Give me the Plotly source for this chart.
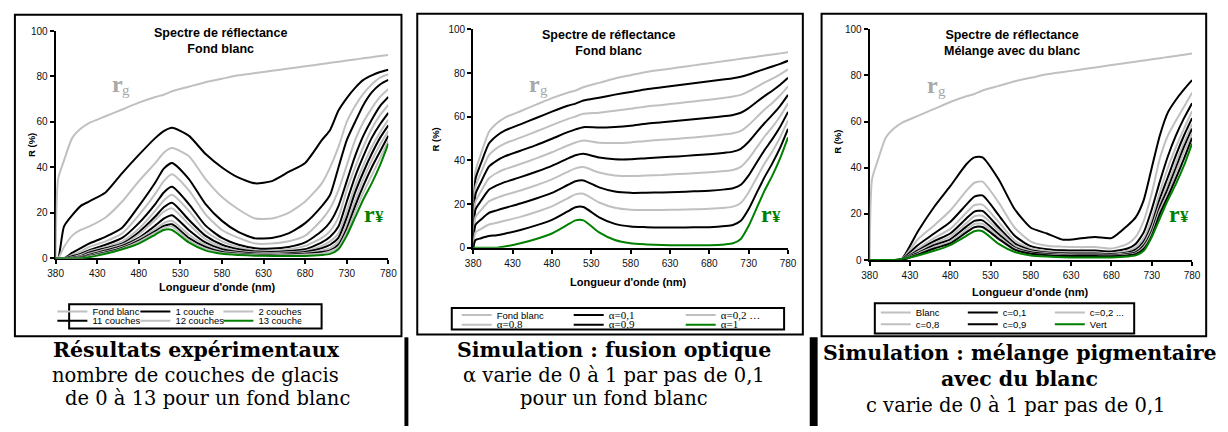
import plotly.graph_objects as go

W, H = 1228, 432

# ---------------- data ----------------
WL = [380, 383, 390, 400, 410, 420, 440, 460, 480, 500, 510, 520, 540, 560, 580,
      600, 620, 640, 660, 680, 700, 710, 720, 730, 740, 750, 760, 770, 780]
XTICKS = [380, 430, 480, 530, 580, 630, 680, 730, 780]
YTICKS = [0, 20, 40, 60, 80, 100]

# white background (r_g) and pure green glaze (r_Y)
RG = [0, 35, 43, 53, 57, 59.5, 62.5, 65.5, 68.5, 71, 72, 73.5, 75.5, 77.5, 79,
      80.5, 81.5, 82.5, 83.5, 84.5, 85.5, 86, 86.5, 87, 87.5, 88, 88.5, 89, 89.5]
RY = [0, 0, 0, 0, 0, 0.5, 2, 4, 6.5, 10.5, 12.5, 12.5, 7, 3.5, 2,
      1.5, 1.2, 1.1, 1.1, 1.1, 1.5, 2, 4, 10, 18, 26, 33, 41, 50.5]

# panel 1 : experimental, 1..12 layers
C1 = [0, 0, 14, 19, 23, 25, 29, 37.5, 45.5, 53, 56, 57.5, 54, 46, 40, 35.5, 33, 34, 38, 42, 52, 56.5, 65, 70.5, 75, 78.5, 80.5, 82, 83]
C2 = [0, 0, 5, 10, 12.5, 14, 18, 25, 34, 42, 46.5, 48.5, 45, 35, 27, 21.5, 17.5, 17.5, 20, 25, 33, 40, 49, 60, 67, 72.5, 76.5, 79.5, 81]
C3 = [0, 0, 0, 2.5, 4.5, 6.5, 9.5, 13.5, 23, 33.5, 39.5, 42, 35, 24, 16.5, 11.5, 8.8, 9, 11, 15.5, 23, 28, 40, 52, 60, 67.5, 73, 76.5, 78.5]
C4 = [0, 0, 0, 1.5, 3, 5, 7.5, 11, 19, 28.5, 34, 37, 30, 19.5, 12.5, 9, 6.5, 6.5, 7.5, 10, 17, 22, 30, 41, 52, 60, 66, 71, 74.5]
C5 = [0, 0, 0, 1, 2, 3.5, 6, 9, 15.5, 24, 29, 31.5, 24, 14.5, 9, 6, 4.5, 4.3, 5, 7, 12, 16, 23, 34, 45, 54, 61, 67, 71]
C6 = [0, 0, 0, 0.5, 1.5, 3, 5, 7.5, 13, 21, 25.5, 28, 21, 12, 7.5, 5, 3.5, 3.3, 4, 5.5, 9, 12, 18, 30, 40, 49, 57, 63, 67.5]
C7 = [0, 0, 0, 0.3, 1, 2.5, 4.5, 6.5, 11.5, 18.5, 22.5, 24.5, 17, 10, 6, 4, 3, 2.8, 3.2, 4, 7, 9.5, 14, 25, 36, 45, 53, 59, 64]
C8 = [0, 0, 0, 0, 0.8, 2, 4, 6, 10.5, 17, 20.5, 22, 15, 8.5, 5, 3.3, 2.6, 2.4, 2.7, 3.3, 5.5, 7.5, 11, 21, 32, 41, 49, 55.5, 61]
C9 = [0, 0, 0, 0, 0.5, 1.5, 3.5, 5.5, 9, 14.5, 17.5, 19, 12.5, 7, 4, 2.8, 2.2, 2, 2.3, 2.8, 4.5, 6, 9, 18, 29, 38, 46, 53, 58.5]
C10 = [0, 0, 0, 0, 0.3, 1.2, 3, 5, 8.5, 13, 15.5, 16.5, 10.5, 6, 3.3, 2.4, 1.9, 1.8, 2, 2.4, 3.5, 4.5, 7.5, 15, 25.5, 35, 43, 50, 56]
C11 = [0, 0, 0, 0, 0.2, 1, 2.6, 4.6, 7.8, 12, 14.3, 15, 9, 5, 2.8, 2, 1.6, 1.5, 1.7, 2, 2.8, 3.5, 6, 13, 23, 32, 40, 47, 54]
C12 = [0, 0, 0, 0, 0, 0.8, 2.3, 4.3, 7.2, 11.3, 13.4, 14, 8, 4.3, 2.4, 1.8, 1.4, 1.3, 1.4, 1.7, 2.2, 3, 5, 11.5, 20.5, 29, 36.5, 44, 52]

# panel 2 : optical fusion, alpha = 0.1 .. 0.9
A1 = [0, 31.5, 38.7, 47.7, 51.3, 53.6, 56.5, 59.4, 62.3, 65, 66, 67.4, 68.7, 70.1, 71.3, 72.6, 73.5, 74.4, 75.3, 76.2, 77.1, 77.6, 78.3, 79.3, 80.6, 81.8, 83, 84.2, 85.6]
A2 = [0, 28, 34.4, 42.4, 45.6, 47.7, 50.4, 53.2, 56.1, 58.9, 60.1, 61.3, 61.8, 62.7, 63.6, 64.7, 65.4, 66.2, 67, 67.8, 68.7, 69.2, 70, 71.6, 73.6, 75.6, 77.4, 79.4, 81.7]
A3 = [0, 24.5, 30.1, 37.1, 39.9, 41.8, 44.4, 47, 49.9, 52.9, 54.2, 55.2, 55, 55.3, 55.9, 56.8, 57.4, 58.1, 58.8, 59.5, 60.3, 60.8, 61.8, 63.9, 66.7, 69.4, 71.9, 74.6, 77.8]
A4 = [0, 21, 25.8, 31.8, 34.2, 35.9, 38.3, 40.9, 43.7, 46.8, 48.2, 49.1, 48.1, 47.9, 48.2, 48.9, 49.4, 49.9, 50.5, 51.1, 51.9, 52.4, 53.5, 56.2, 59.7, 63.2, 66.3, 69.8, 73.9]
A5 = [0, 17.5, 21.5, 26.5, 28.5, 30, 32.3, 34.8, 37.5, 40.8, 42.3, 43, 41.3, 40.5, 40.5, 41, 41.4, 41.8, 42.3, 42.8, 43.5, 44, 45.3, 48.5, 52.8, 57, 60.8, 65, 70]
A6 = [0, 14, 17.2, 21.2, 22.8, 24.1, 26.2, 28.6, 31.3, 34.7, 36.3, 36.9, 34.4, 33.1, 32.8, 33.1, 33.3, 33.7, 34.1, 34.5, 35.1, 35.6, 37, 40.8, 45.8, 50.8, 55.2, 60.2, 66.1]
A7 = [0, 10.5, 12.9, 15.9, 17.1, 18.2, 20.2, 22.5, 25.1, 28.7, 30.4, 30.8, 27.6, 25.7, 25.1, 25.2, 25.3, 25.5, 25.8, 26.1, 26.7, 27.2, 28.8, 33.1, 38.9, 44.6, 49.7, 55.4, 62.2]
A8 = [0, 7, 8.6, 10.6, 11.4, 12.3, 14.1, 16.3, 18.9, 22.6, 24.4, 24.7, 20.7, 18.3, 17.4, 17.3, 17.3, 17.4, 17.6, 17.8, 18.3, 18.8, 20.5, 25.4, 31.9, 38.4, 44.1, 50.6, 58.3]
A9 = [0, 3.5, 4.3, 5.3, 5.7, 6.4, 8.1, 10.2, 12.7, 16.6, 18.5, 18.6, 13.9, 10.9, 9.7, 9.4, 9.2, 9.2, 9.3, 9.4, 9.9, 10.4, 12.3, 17.7, 25, 32.2, 38.6, 45.8, 54.4]

# panel 3 : pigment mixture with white, c = 0.1 .. 0.9
M1 = [0, 0, 0, 0, 0, 0.5, 12.5, 23, 32, 41.5, 44.5, 44.5, 35, 22, 14, 11.5, 8.8, 9.3, 10, 9.5, 15, 18.5, 26, 40, 54, 64, 69.5, 74, 78]
M2 = [0, 0, 0, 0, 0, 0.3, 9, 15, 21.5, 30, 33.5, 34, 25, 14, 8, 6.2, 5.8, 5.6, 5.6, 5, 7, 10, 17, 29, 44, 54, 60.5, 66.5, 72.5]
M3 = [0, 0, 0, 0, 0, 0.3, 6.5, 11.5, 16.5, 24, 27.5, 28, 19.5, 10.5, 6, 4.7, 4.2, 4.1, 4.1, 3.7, 5, 7, 12, 22, 34, 45, 54, 61.5, 68]
M4 = [0, 0, 0, 0, 0, 0.2, 5, 9.5, 13.5, 20.5, 23.8, 24, 16.5, 8.5, 5, 3.9, 3.4, 3.3, 3.3, 3, 4, 5.5, 9.5, 18, 29.5, 40, 49, 57, 64.5]
M5 = [0, 0, 0, 0, 0, 0.2, 4.2, 8.2, 11.5, 18, 21, 21.3, 14.2, 7.2, 4.3, 3.3, 2.9, 2.8, 2.8, 2.6, 3.3, 4.5, 8, 15.5, 26.5, 36, 45.5, 54, 61.5]
M6 = [0, 0, 0, 0, 0, 0.1, 3.6, 7.2, 10.2, 16, 19, 19.2, 12.8, 6.3, 3.8, 2.9, 2.5, 2.4, 2.4, 2.3, 2.9, 3.8, 7, 14, 24.5, 33, 42.5, 51, 59]
M7 = [0, 0, 0, 0, 0, 0.1, 3.1, 6.4, 9, 14.5, 17, 17.2, 11.3, 5.5, 3.4, 2.6, 2.2, 2.1, 2.1, 2, 2.6, 3.3, 6.2, 12.5, 23, 31, 40, 49, 57]
M8 = [0, 0, 0, 0, 0, 0, 2.7, 5.7, 8, 13.2, 15.6, 15.7, 10.2, 5, 3, 2.3, 2, 1.9, 1.9, 1.8, 2.3, 2.9, 5.5, 11.5, 21.5, 29, 38, 47, 55]
M9 = [0, 0, 0, 0, 0, 0, 2.3, 5, 7.2, 12, 14.2, 14.3, 9.2, 4.5, 2.7, 2.1, 1.8, 1.7, 1.7, 1.6, 2, 2.5, 4.8, 10.5, 20, 27.5, 35.5, 44, 53]

# ---------------- styling ----------------
ARIAL = "Arial, Liberation Sans, sans-serif"
TIMES = "Times New Roman, Liberation Serif, serif"
CAP = "DejaVu Serif, serif"
GRAY = '#c0c0c0'
BLACK = '#000000'
GREEN = '#008000'
LABGRAY = '#a8a8a8'

fig = go.Figure()


def line(panel, ys, color, name='', legend=None):
    fig.add_trace(go.Scatter(
        x=WL, y=ys, mode='lines',
        line=dict(color=color, width=2, shape='spline', smoothing=0.6),
        xaxis='x' if panel == 1 else f'x{panel}',
        yaxis='y' if panel == 1 else f'y{panel}',
        name=name, showlegend=legend is not None,
        legend=legend if legend else 'legend', hoverinfo='skip'))


def serif(t):
    return f'<span style="font-family:{TIMES};font-size:11px">{t}</span>'


# panel 1
line(1, RG, GRAY, 'Fond blanc', 'legend')
line(1, C1, BLACK, '1 couche', 'legend')
line(1, C2, GRAY, '2 couches...', 'legend')
for i, c in enumerate([C3, C4, C5, C6, C7, C8, C9, C10]):
    line(1, c, BLACK if i % 2 == 0 else GRAY)
line(1, C11, BLACK, '11 couches', 'legend2')
line(1, C12, GRAY, '12 couches', 'legend2')
line(1, RY, GREEN, '13 couches', 'legend2')

# panel 2
line(2, RG, GRAY, 'Fond blanc', 'legend3')
line(2, A1, BLACK, serif('α=0,1'), 'legend3')
line(2, A2, GRAY, serif('α=0,2 …'), 'legend3')
for i, c in enumerate([A3, A4, A5, A6, A7]):
    line(2, c, BLACK if i % 2 == 0 else GRAY)
line(2, A8, GRAY, serif('α=0,8'), 'legend4')
line(2, A9, BLACK, serif('α=0,9'), 'legend4')
line(2, RY, GREEN, serif('α=1'), 'legend4')

# panel 3
line(3, RG, GRAY, 'Blanc', 'legend5')
line(3, M1, BLACK, 'c=0,1', 'legend5')
line(3, M2, GRAY, 'c=0,2 ...', 'legend5')
for i, c in enumerate([M3, M4, M5, M6, M7]):
    line(3, c, BLACK if i % 2 == 0 else GRAY)
line(3, M8, GRAY, 'c=0,8', 'legend6')
line(3, M9, BLACK, 'c=0,9', 'legend6')
line(3, RY, GREEN, 'Vert', 'legend6')


def dom_x(a, b):
    return [a / W, b / W]


def dom_y(top, bottom):
    return [1 - bottom / H, 1 - top / H]


def xax(dom, anchor):
    return dict(domain=dom, anchor=anchor, range=[380, 780], tickvals=XTICKS,
                ticks='outside', ticklen=4, tickwidth=1.5, tickcolor='black',
                showline=True, linewidth=2, linecolor='black', showgrid=False,
                zeroline=False, layer='below traces', ticklabelstandoff=1,
                tickfont=dict(family=ARIAL, size=10, color='#111'), fixedrange=True)


def yax(dom, anchor):
    return dict(domain=dom, anchor=anchor, range=[0, 100], tickvals=YTICKS,
                ticks='outside', ticklen=4, tickwidth=1.5, tickcolor='black',
                showline=True, linewidth=2, linecolor='black', showgrid=False,
                zeroline=False, layer='below traces',
                tickfont=dict(family=ARIAL, size=10, color='#111'), fixedrange=True)


def leg(xpx, ypx, ew):
    return dict(orientation='h', x=xpx / W, y=1 - ypx / H, xanchor='left',
                yanchor='middle', entrywidth=ew, entrywidthmode='pixels',
                bgcolor='rgba(0,0,0,0)', borderwidth=0, traceorder='normal',
                font=dict(family=ARIAL, size=9.5, color='black'))


shapes = []


def rect(x0, y0, x1, y1, width=2, fill=None):
    shapes.append(dict(type='rect', xref='paper', yref='paper',
                       x0=x0 / W, x1=x1 / W, y0=1 - y1 / H, y1=1 - y0 / H,
                       line=dict(color='black', width=width if fill is None else 0),
                       fillcolor=fill if fill else 'rgba(0,0,0,0)'))


# panel frames
rect(7, 10, 399, 340)
rect(415, 9, 806, 338)
rect(825, 9, 1215, 340)
# legend frames
rect(62, 307, 318, 332)
rect(450, 311, 787, 333)
rect(879, 306, 1142, 337)
# separators under the panels
rect(402, 341, 406, 432, fill='black')
rect(813, 341, 821, 432, fill='black')

anns = []


def ann(x, y, text, size, family=ARIAL, color='black', angle=0, xanchor='center',
        yanchor='middle'):
    anns.append(dict(x=x / W, y=1 - y / H, xref='paper', yref='paper', text=text,
                     showarrow=False, textangle=angle, xanchor=xanchor,
                     yanchor=yanchor, align='center', borderpad=0,
                     font=dict(family=family, size=size, color=color)))


# chart titles
ann(215, 37, '<b>Spectre de réflectance</b><br><b>Fond blanc</b>', 12.5)
ann(609, 39, '<b>Spectre de réflectance</b><br><b>Fond blanc</b>', 12.5)
ann(1018, 39, '<b>Spectre de réflectance</b><br><b>Mélange avec du blanc</b>', 12.5)
# axis titles
for (xr, yr) in [(24, 144), (433, 138), (841, 140)]:
    ann(xr, yr, '<b>R (%)</b>', 9.5, angle=-90)
for (xl, yl) in [(212, 289), (629, 284), (1037, 295)]:
    ann(xl, yl, "<b>Longueur d'onde (nm)</b>", 11)
# r_g labels (letter + smaller subscript letter)
for (xg, yg) in [(104, 81), (527, 81), (931, 82)]:
    ann(xg, yg, '<b>r</b>', 24, TIMES, LABGRAY, xanchor='left')
    ann(xg + 11, yg + 6, 'g', 15, TIMES, LABGRAY, xanchor='left')
# r_Y labels
for (xv, yv) in [(360, 214), (763, 214), (1176, 214)]:
    ann(xv, yv, '<b>r</b>', 24, TIMES, GREEN, xanchor='left')
    ann(xv + 11, yv + 3, '<b>¥</b>', 17, TIMES, GREEN, xanchor='left')
# captions
ann(191, 354, '<b>Résultats expérimentaux</b>', 20.5, CAP)
ann(190, 380, 'nombre de couches de glacis', 19.5, CAP)
ann(202, 404, 'de 0 à 13 pour un fond blanc', 19.5, CAP)
ann(614, 354, '<b>Simulation : fusion optique</b>', 20.5, CAP)
ann(614, 380, 'α varie de 0 à 1 par pas de 0,1', 19.5, CAP)
ann(615, 404, 'pour un fond blanc', 19.5, CAP)
ann(1026, 357, '<b>Simulation : mélange pigmentaire</b>', 20.5, CAP)
ann(1026, 384, '<b>avec du blanc</b>', 20.5, CAP)
ann(1022, 411, 'c varie de 0 à 1 par pas de 0,1', 19.5, CAP)

fig.update_layout(
    width=W, height=H, margin=dict(l=0, r=0, t=0, b=0),
    paper_bgcolor='white', plot_bgcolor='white', hovermode=False,
    xaxis=xax(dom_x(48.3, 385.7), 'y'), yaxis=yax(dom_y(26.7, 260), 'x'),
    xaxis2=xax(dom_x(471.7, 791), 'y2'), yaxis2=yax(dom_y(25, 249), 'x2'),
    xaxis3=xax(dom_x(873.7, 1200.7), 'y3'), yaxis3=yax(dom_y(25, 261.7), 'x3'),
    legend=leg(45, 314.5, 38), legend2=leg(45, 324, 38),
    legend3=leg(455, 318, 67), legend4=leg(455, 328, 67),
    legend5=leg(880, 315.5, 42), legend6=leg(880, 327.5, 42),
    shapes=shapes, annotations=anns,
)

fig.write_html("out.html", config={'displayModeBar': False},
               post_script="document.body.style.margin='0';")
